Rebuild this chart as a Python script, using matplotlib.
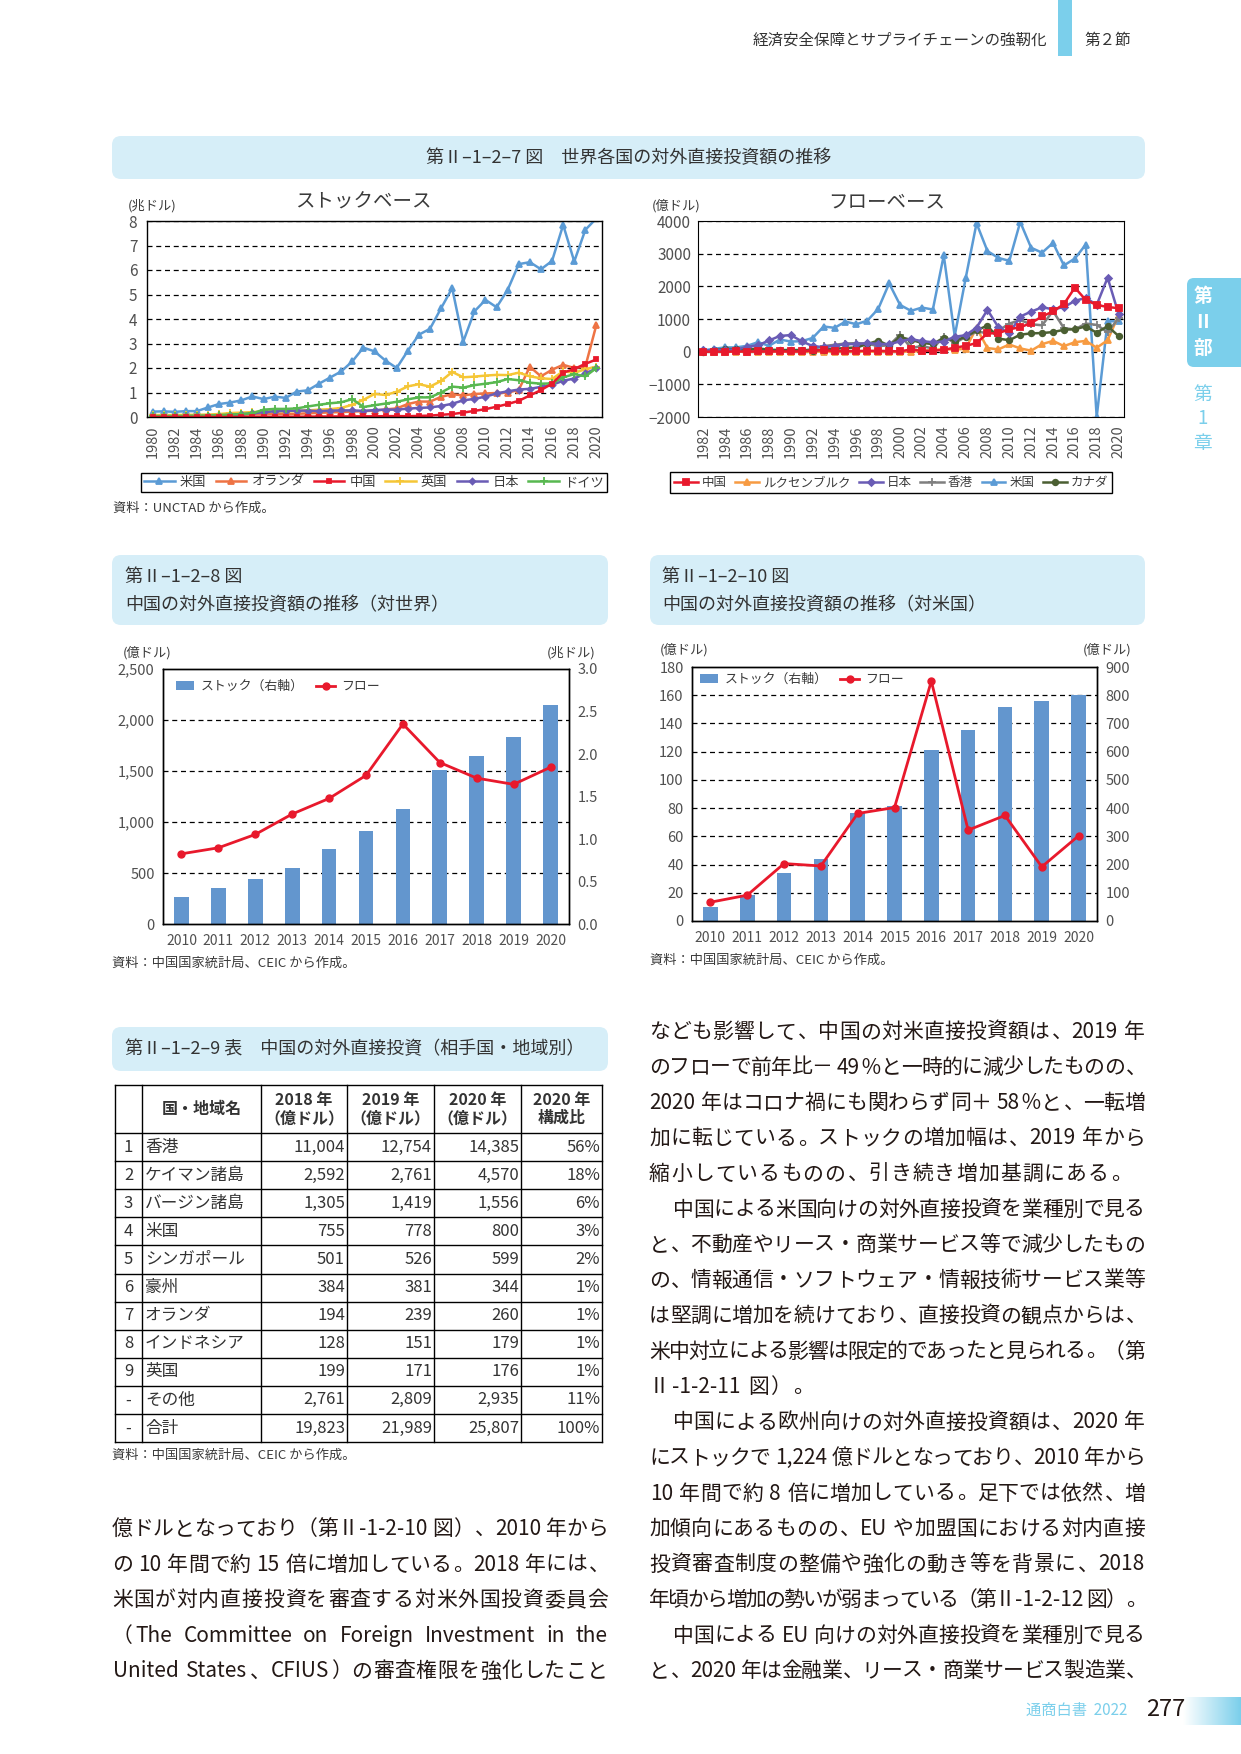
import re
import numpy as np
import matplotlib
matplotlib.use('Agg')
import matplotlib.pyplot as plt
from matplotlib.patches import FancyBboxPatch, Rectangle, Patch
from matplotlib.lines import Line2D
from matplotlib.ticker import FuncFormatter
from matplotlib.colors import LinearSegmentedColormap

plt.rcParams['font.family'] = ['Noto Sans CJK JP', 'DejaVu Sans']

# ------------------------------------------------------------------ data
years_stock = list(range(1980, 2021))
stock_us = [0.22, 0.23, 0.21, 0.24, 0.24, 0.39, 0.53, 0.59, 0.68, 0.84,
            0.73, 0.83, 0.78, 1.04, 1.09, 1.36, 1.61, 1.86, 2.27, 2.83,
            2.68, 2.30, 2.00, 2.70, 3.36, 3.60, 4.44, 5.26, 3.08, 4.31,
            4.78, 4.48, 5.19, 6.24, 6.32, 6.03, 6.37, 7.84, 6.35, 7.64, 8.11]
stock_nl = [0.04, 0.04, 0.04, 0.05, 0.05, 0.05, 0.07, 0.08, 0.09, 0.10,
            0.11, 0.12, 0.12, 0.13, 0.15, 0.17, 0.19, 0.20, 0.22, 0.24,
            0.26, 0.31, 0.35, 0.53, 0.63, 0.63, 0.82, 0.93, 0.88, 0.94,
            0.96, 0.98, 0.99, 1.11, 2.05, 1.66, 1.93, 2.13, 2.00, 2.06, 3.77]
stock_cn = [0.00, 0.00, 0.00, 0.00, 0.00, 0.00, 0.00, 0.00, 0.00, 0.00,
            0.004, 0.005, 0.01, 0.01, 0.015, 0.018, 0.02, 0.022, 0.025, 0.027,
            0.028, 0.035, 0.037, 0.033, 0.045, 0.057, 0.09, 0.12, 0.18, 0.25,
            0.32, 0.42, 0.53, 0.66, 0.88, 1.10, 1.36, 1.81, 1.96, 2.17, 2.35]
stock_uk = [0.08, 0.08, 0.08, 0.09, 0.09, 0.10, 0.12, 0.16, 0.18, 0.20,
            0.23, 0.23, 0.22, 0.25, 0.27, 0.30, 0.32, 0.37, 0.50, 0.70,
            0.94, 0.90, 1.03, 1.25, 1.34, 1.24, 1.47, 1.84, 1.62, 1.65,
            1.69, 1.72, 1.71, 1.81, 1.66, 1.58, 1.55, 1.87, 1.80, 1.95, 2.06]
stock_jp = [0.02, 0.02, 0.03, 0.03, 0.04, 0.04, 0.06, 0.08, 0.11, 0.15,
            0.20, 0.23, 0.25, 0.26, 0.26, 0.24, 0.26, 0.27, 0.27, 0.25,
            0.28, 0.30, 0.30, 0.34, 0.37, 0.39, 0.45, 0.54, 0.68, 0.74,
            0.83, 0.96, 1.05, 1.12, 1.15, 1.23, 1.31, 1.48, 1.57, 1.78, 1.98]
stock_de = [0.04, 0.04, 0.04, 0.05, 0.05, 0.06, 0.08, 0.10, 0.12, 0.15,
            0.30, 0.33, 0.33, 0.35, 0.43, 0.50, 0.56, 0.60, 0.73, 0.41,
            0.48, 0.55, 0.62, 0.72, 0.80, 0.80, 1.00, 1.24, 1.20, 1.30,
            1.36, 1.42, 1.55, 1.50, 1.40, 1.36, 1.37, 1.62, 1.75, 1.66, 2.00]

years_flow = list(range(1982, 2021))
flow_cn = [0, 1, 1, 6, 4, 6, 9, 8, 8, 9,
           40, 44, 20, 20, 21, 26, 26, 18, 9, 69,
           25, 29, 55, 123, 176, 265, 559, 565, 688, 747,
           878, 1078, 1231, 1457, 1961, 1583, 1430, 1369, 1329]
flow_lu = [0, 0, 0, 0, 0, 0, 0, 0, 0, 0,
           0, 0, 0, 0, 0, 0, 0, 0, 0, 0,
           20, 50, 80, 60, 90, 730, 110, 70, 220, 100,
           30, 230, 330, 170, 290, 330, 120, 350, 1110]
flow_jp = [45, 36, 60, 64, 145, 196, 343, 481, 508, 316,
           171, 138, 180, 228, 234, 260, 240, 226, 316, 384,
           323, 288, 310, 458, 502, 735, 1280, 747, 562, 1075,
           1226, 1357, 1300, 1363, 1554, 1647, 1432, 2266, 1157]
flow_hk = [20, 20, 20, 20, 20, 20, 25, 25, 30, 30,
           80, 170, 210, 250, 260, 245, 169, 197, 520, 114,
           170, 100, 458, 271, 447, 612, 571, 640, 860, 964,
           839, 808, 1243, 719, 680, 862, 819, 594, 1022]
flow_us = [40, 90, 130, 130, 180, 290, 180, 370, 310, 320,
           420, 770, 730, 920, 840, 950, 1310, 2090, 1430, 1250,
           1350, 1290, 2950, 480, 2240, 3930, 3080, 2870, 2780, 3970,
           3180, 3030, 3330, 2640, 2850, 3280, -2000, 930, 930]
flow_ca = [0, 50, 80, 80, 60, 100, 60, 50, 50, 50,
           30, 60, 90, 110, 130, 230, 340, 180, 450, 360,
           270, 230, 430, 330, 460, 650, 800, 400, 350, 520,
           560, 570, 600, 670, 690, 770, 580, 780, 480]

years_cn = list(range(2010, 2021))
cn_world_stock = [0.318, 0.424, 0.530, 0.660, 0.883, 1.095, 1.354, 1.814, 1.979, 2.203, 2.580]
cn_world_flow = [688, 747, 878, 1078, 1231, 1457, 1961, 1583, 1430, 1369, 1537]
cn_us_stock = [49, 92, 170, 219, 382, 407, 605, 676, 757, 778, 800]
cn_us_flow = [13.3, 18.3, 40.7, 39.0, 76.2, 80.4, 170.0, 64.4, 74.8, 38.4, 60.4]

tbl_index = ["1", "2", "3", "4", "5", "6", "7", "8", "9", "-", "-"]
tbl_names = ["香港", "ケイマン諸島", "バージン諸島", "米国", "シンガポール", "豪州",
             "オランダ", "インドネシア", "英国", "その他", "合計"]
tbl_2018 = [11004, 2592, 1305, 755, 501, 384, 194, 128, 199, 2761, 19823]
tbl_2019 = [12754, 2761, 1419, 778, 526, 381, 239, 151, 171, 2809, 21989]
tbl_2020 = [14385, 4570, 1556, 800, 599, 344, 260, 179, 176, 2935, 25807]
tbl_share = [56, 18, 6, 3, 2, 1, 1, 1, 1, 11, 100]
tbl_header = ["国・地域名", "2018 年\n（億ドル）", "2019 年\n（億ドル）", "2020 年\n（億ドル）", "2020 年\n構成比"]

# ------------------------------------------------------------------ styles
TXT = '#3a3a3a'
TICK = '#505050'
BODY = '#231815'
SKY = '#7BCFEB'
BOX = '#D6EEF8'
BAR = '#6396CE'
RED = '#E8192C'
GRID = dict(color='black', lw=0.9, ls=(0, (4, 3)))

W, H = 1241, 1754
fig = plt.figure(figsize=(W / 100, H / 100), dpi=100)
bg = fig.add_axes([0, 0, 1, 1])
bg.set_xlim(0, W)
bg.set_ylim(H, 0)
bg.axis('off')


def px_axes(x0, y0, x1, y1):
    return fig.add_axes([x0 / W, 1 - y1 / H, (x1 - x0) / W, (y1 - y0) / H])


def fbox(x0, y0, x1, y1, r=9, color=BOX):
    bg.add_patch(FancyBboxPatch((x0, y0), x1 - x0, y1 - y0,
                                boxstyle=f"round,pad=0,rounding_size={r}",
                                fc=color, ec='none', zorder=0))


def t(x, y, s, size=10, **kw):
    kw.setdefault('color', TXT)
    kw.setdefault('va', 'center')
    return bg.text(x, y, s, fontsize=size, **kw)


# ------------------------------------------------------------------ page header / side tab / footer
bg.add_patch(Rectangle((1058, 0), 14, 56, fc=SKY, ec='none'))
t(1047, 40, "経済安全保障とサプライチェーンの強靭化", 11.2, ha='right', color='#333333')
t(1084, 40, "第２節", 11.2, ha='left', color='#333333')

fbox(1187, 278, 1260, 367, r=7, color=SKY)
for s, yy in zip(["第", "Ⅱ", "部"], [297, 323, 349]):
    t(1203, yy, s, 13.5, ha='center', color='white', fontweight='bold')
for s, yy in zip(["第", "1", "章"], [394, 419, 444]):
    t(1203, yy, s, 13.5, ha='center', color=SKY)

grad = np.linspace(0, 1, 100)[None, :]
cm = LinearSegmentedColormap.from_list('g', ['#ffffff', SKY])
bg.imshow(grad, extent=(1183, 1241, 1725, 1697), cmap=cm, aspect='auto', zorder=0)
bg.set_xlim(0, W)
bg.set_ylim(H, 0)
t(1127, 1710, "通商白書  2022", 11, ha='right', color=SKY)
t(1166, 1710, "277", 17, ha='center', color=BODY)

# ------------------------------------------------------------------ figure 7 title
fbox(112, 136, 1145, 179)
t(629, 158, "第Ⅱ–1–2–7 図　世界各国の対外直接投資額の推移", 13, ha='center', color='#333333')

# stock chart
ax1 = px_axes(147, 221, 602, 417)
stock_series = [("米国", stock_us, '#5B9BD5', '^', 4.5),
                ("オランダ", stock_nl, '#EE7344', '^', 4.5),
                ("英国", stock_uk, '#F5C636', '+', 6),
                ("日本", stock_jp, '#6A5CB5', 'D', 3),
                ("ドイツ", stock_de, '#58B850', '+', 6),
                ("中国", stock_cn, RED, 's', 3.5)]
handles1 = {}
for name, vals, col, mk, ms in stock_series:
    ln, = ax1.plot(years_stock, vals, color=col, marker=mk, ms=ms, lw=1.8, mew=1.3)
    handles1[name] = ln
ax1.set_xlim(1979.5, 2020.5)
ax1.set_ylim(0, 8)
ax1.set_yticks(range(0, 9))
ax1.set_xticks(years_stock[::2])
ax1.set_xticklabels([str(y) for y in years_stock[::2]], rotation=90)
ax1.grid(axis='y', **GRID)
ax1.set_axisbelow(True)
ax1.tick_params(length=0, labelcolor=TICK)
ax1.tick_params(axis='y', labelsize=11, pad=7)
ax1.tick_params(axis='x', labelsize=10.5, pad=6)
for s in ax1.spines.values():
    s.set_linewidth(1.0)
t(363, 202, "ストックベース", 14, ha='center')
t(128, 206, "(兆ドル)", 9.5, ha='left')
order1 = ["米国", "オランダ", "中国", "英国", "日本", "ドイツ"]
leg = ax1.legend([handles1[k] for k in order1], order1, ncol=6, loc='center',
                 bbox_to_anchor=(141 / W, 1 - 494 / H, (607 - 141) / W, 23 / H),
                 bbox_transform=fig.transFigure, mode='expand', borderaxespad=0,
                 fontsize=9.5, handlelength=2.3, handletextpad=0.4, columnspacing=0.8,
                 frameon=True, fancybox=False, edgecolor='black', framealpha=1,
                 borderpad=0.25, labelcolor=TXT)
leg.get_frame().set_linewidth(1.0)
t(113, 508, "資料：UNCTAD から作成。", 9.5, ha='left')

# flow chart
ax2 = px_axes(698, 221, 1124, 417)
flow_series = [("米国", flow_us, '#5B9BD5', '^', 4.5),
               ("ルクセンブルク", flow_lu, '#F79B42', '^', 4.5),
               ("香港", flow_hk, '#7F7F7F', '+', 6),
               ("カナダ", flow_ca, '#4B5F32', 'o', 4),
               ("日本", flow_jp, '#6A5CB5', 'D', 3.5),
               ("中国", flow_cn, RED, 's', 4)]
handles2 = {}
for name, vals, col, mk, ms in flow_series:
    ln, = ax2.plot(years_flow, vals, color=col, marker=mk, ms=ms, lw=1.8, mew=1.3)
    handles2[name] = ln
ax2.set_xlim(1981.5, 2020.5)
ax2.set_ylim(-2000, 4000)
ax2.set_yticks(range(-2000, 4001, 1000))
ax2.set_xticks(years_flow[::2])
ax2.set_xticklabels([str(y) for y in years_flow[::2]], rotation=90)
ax2.grid(axis='y', **GRID)
ax2.set_axisbelow(True)
ax2.tick_params(length=0, labelcolor=TICK)
ax2.tick_params(axis='y', labelsize=11, pad=5)
ax2.tick_params(axis='x', labelsize=10.5, pad=6)
t(887, 202, "フローベース", 14, ha='center')
t(652, 206, "(億ドル)", 9.5, ha='left')
order2 = ["中国", "ルクセンブルク", "日本", "香港", "米国", "カナダ"]
leg2 = ax2.legend([handles2[k] for k in order2], order2, ncol=6, loc='center',
                  bbox_to_anchor=(658 / W, 1 - 494 / H, (1124 - 658) / W, 23 / H),
                  bbox_transform=fig.transFigure, borderaxespad=0,
                  fontsize=9, handlelength=1.9, handletextpad=0.3, columnspacing=0.7,
                  frameon=True, fancybox=False, edgecolor='black', framealpha=1,
                  borderpad=0.3, labelcolor=TXT)
leg2.get_frame().set_linewidth(1.0)

# ------------------------------------------------------------------ figure 8
fbox(112, 555, 608, 625)
t(125, 577, "第Ⅱ–1–2–8 図", 13, ha='left', color='#333333')
t(125, 605, "中国の対外直接投資額の推移（対世界）", 13, ha='left', color='#333333')

comma = FuncFormatter(lambda v, p: f"{int(v):,}")
onedec = FuncFormatter(lambda v, p: f"{v:.1f}")


def combo(ax_rect, bars, line, left_max, left_step, right_max, right_step, lfmt, rfmt,
          legend_xy, units_left, units_right):
    ax = px_axes(*ax_rect)
    ax.bar(years_cn, bars, width=0.4, color=BAR, zorder=2)
    ax.set_ylim(0, right_max)
    ax.set_xlim(2009.5, 2020.5)
    ax.set_xticks(years_cn)
    axl = ax.twinx()
    axl.plot(years_cn, line, color=RED, marker='o', ms=5, lw=2)
    axl.set_ylim(0, left_max)
    lticks = list(range(0, left_max + 1, left_step))
    axl.set_yticks(lticks)
    axl.yaxis.set_major_formatter(lfmt)
    axl.yaxis.tick_left()
    ax.yaxis.tick_right()
    ax.set_yticks(list(np.arange(0, right_max + right_step / 2, right_step)))
    ax.yaxis.set_major_formatter(rfmt)
    for v in lticks[1:-1]:
        ax.axhline(v / left_max * right_max, zorder=1, **GRID)
    for a in (ax, axl):
        a.tick_params(length=0, labelcolor=TICK, labelsize=10.5, pad=6)
        for s in a.spines.values():
            s.set_linewidth(1.0)
    ax.tick_params(axis='x', labelsize=10, pad=7)
    hb = Patch(fc=BAR, ec='none')
    hl = Line2D([], [], color=RED, marker='o', ms=5, lw=2)
    axl.legend([hb, hl], ["ストック（右軸）", "フロー"], ncol=2, loc='upper left',
               bbox_to_anchor=(legend_xy[0] / W, 1 - legend_xy[1] / H),
               bbox_transform=fig.transFigure, frameon=False, fontsize=9.3,
               handlelength=1.4, handleheight=0.6, handletextpad=0.5,
               columnspacing=1.0, borderaxespad=0, borderpad=0, labelcolor=TXT)
    t(units_left[0], units_left[1], "(億ドル)", 9.5, ha='left')
    t(units_right[0], units_right[1], units_right[2], 9.5, ha='left')
    return ax


combo((163, 669, 569, 924), cn_world_stock, cn_world_flow, 2500, 500, 3.0, 0.5,
      comma, onedec, (176, 680), (123, 653), (547, 653, "(兆ドル)"))
t(112, 963, "資料：中国国家統計局、CEIC から作成。", 9.5, ha='left')

# ------------------------------------------------------------------ figure 10
fbox(650, 555, 1145, 625)
t(662, 577, "第Ⅱ–1–2–10 図", 13, ha='left', color='#333333')
t(662, 605, "中国の対外直接投資額の推移（対米国）", 13, ha='left', color='#333333')
combo((692, 667, 1097, 921), cn_us_stock, cn_us_flow, 180, 20, 900, 100,
      FuncFormatter(lambda v, p: f"{int(v)}"), FuncFormatter(lambda v, p: f"{int(v)}"),
      (700, 673), (660, 650), (1083, 650, "(億ドル)"))
t(650, 960, "資料：中国国家統計局、CEIC から作成。", 9.5, ha='left')

# ------------------------------------------------------------------ table 9
fbox(112, 1027, 608, 1071)
t(125, 1049, "第Ⅱ–1–2–9 表　中国の対外直接投資（相手国・地域別）", 13, ha='left', color='#333333')

col_x = [115, 142, 261, 347, 434, 521, 602]
row_y = [1085, 1133] + [1133 + 28.1 * (i + 1) for i in range(len(tbl_names))]
for x in col_x:
    bg.plot([x, x], [row_y[0], row_y[-1]], color='black', lw=1.0)
for y in row_y:
    bg.plot([col_x[0], col_x[-1]], [y, y], color='black', lw=1.0)
hy = (row_y[0] + row_y[1]) / 2
for j, h in enumerate(tbl_header):
    cx = (col_x[j + 1] + col_x[j + 2]) / 2
    t(cx, hy, h, 11.5, ha='center', fontweight='bold', color='#333333', linespacing=1.15)
for i in range(len(tbl_names)):
    cy = (row_y[i + 1] + row_y[i + 2]) / 2
    t((col_x[0] + col_x[1]) / 2, cy, tbl_index[i], 12, ha='center', color='#333333')
    t(col_x[1] + 3, cy, tbl_names[i], 12, ha='left', color='#333333')
    for j, arr in enumerate([tbl_2018, tbl_2019, tbl_2020]):
        t(col_x[j + 3] - 2, cy, f"{arr[i]:,}", 12, ha='right', color='#333333')
    t(col_x[6] - 2, cy, f"{tbl_share[i]}%", 12, ha='right', color='#333333')
t(112, 1455, "資料：中国国家統計局、CEIC から作成。", 9.5, ha='left')

# ------------------------------------------------------------------ body text (justified)
SIZE = 15
EM = SIZE * 100 / 72
renderer = fig.canvas.get_renderer()


def is_ascii(s):
    return all(ord(c) < 128 for c in s)


def jline(x0, x1, y, s, justify=True, indent=0):
    x0 = x0 + indent * (EM + 2.8)
    parts = re.findall(r"[A-Za-z0-9,.%\-]+| |.", s)
    items = []
    for p in parts:
        if p == ' ':
            items.append(('sp', 0.25 * EM, None))
        elif is_ascii(p):
            o = bg.text(0, y, p, fontsize=SIZE, va='center', ha='left', color=BODY)
            w = o.get_window_extent(renderer=renderer).width
            items.append(('a', w + 0.06 * EM, o))
        else:
            o = bg.text(0, y, p, fontsize=SIZE, va='center', ha='center', color=BODY)
            items.append(('c', EM, o))
    total = sum(w for _, w, _ in items)
    n = len(items)
    gap = ((x1 - x0) - total) / (n - 1) if (justify and n > 1) else 1.1
    x = x0
    for kind, w, o in items:
        if o is not None:
            txt = o.get_text()
            if kind == 'a':
                o.set_x(x + 0.03 * EM)
            elif txt in "、。，．":
                o.set_ha('left'); o.set_x(x + 0.08 * EM)
            elif txt in "（":
                o.set_ha('right'); o.set_x(x + w - 0.02 * EM)
            elif txt in "）":
                o.set_ha('left'); o.set_x(x + 0.02 * EM)
            else:
                o.set_x(x + w / 2)
        x += w + gap


left_lines = [
    ("億ドルとなっており（第Ⅱ-1-2-10 図）、2010 年から", True, 0),
    ("の 10 年間で約 15 倍に増加している。2018 年には、", True, 0),
    ("米国が対内直接投資を審査する対米外国投資委員会", True, 0),
    ("（The Committee on Foreign Investment in the", True, 0),
    ("United States、CFIUS）の審査権限を強化したこと", True, 0),
]
for i, (s, j, ind) in enumerate(left_lines):
    jline(112, 608, 1529 + 35.6 * i, s, j, ind)

right_lines = [
    ("なども影響して、中国の対米直接投資額は、2019 年", True, 0),
    ("のフローで前年比－ 49％と一時的に減少したものの、", True, 0),
    ("2020 年はコロナ禍にも関わらず同＋ 58％と、一転増", True, 0),
    ("加に転じている。ストックの増加幅は、2019 年から", True, 0),
    ("縮小しているものの、引き続き増加基調にある。", False, 0),
    ("中国による米国向けの対外直接投資を業種別で見る", True, 1),
    ("と、不動産やリース・商業サービス等で減少したもの", True, 0),
    ("の、情報通信・ソフトウェア・情報技術サービス業等", True, 0),
    ("は堅調に増加を続けており、直接投資の観点からは、", True, 0),
    ("米中対立による影響は限定的であったと見られる。（第", True, 0),
    ("Ⅱ-1-2-11 図）。", False, 0),
    ("中国による欧州向けの対外直接投資額は、2020 年", True, 1),
    ("にストックで 1,224 億ドルとなっており、2010 年から", True, 0),
    ("10 年間で約 8 倍に増加している。足下では依然、増", True, 0),
    ("加傾向にあるものの、EU や加盟国における対内直接", True, 0),
    ("投資審査制度の整備や強化の動き等を背景に、2018", True, 0),
    ("年頃から増加の勢いが弱まっている（第Ⅱ-1-2-12 図）。", True, 0),
    ("中国による EU 向けの対外直接投資を業種別で見る", True, 1),
    ("と、2020 年は金融業、リース・商業サービス製造業、", True, 0),
]
for i, (s, j, ind) in enumerate(right_lines):
    jline(649, 1145, 1032 + 35.5 * i, s, j, ind)

fig.savefig('out.png', dpi=100)
